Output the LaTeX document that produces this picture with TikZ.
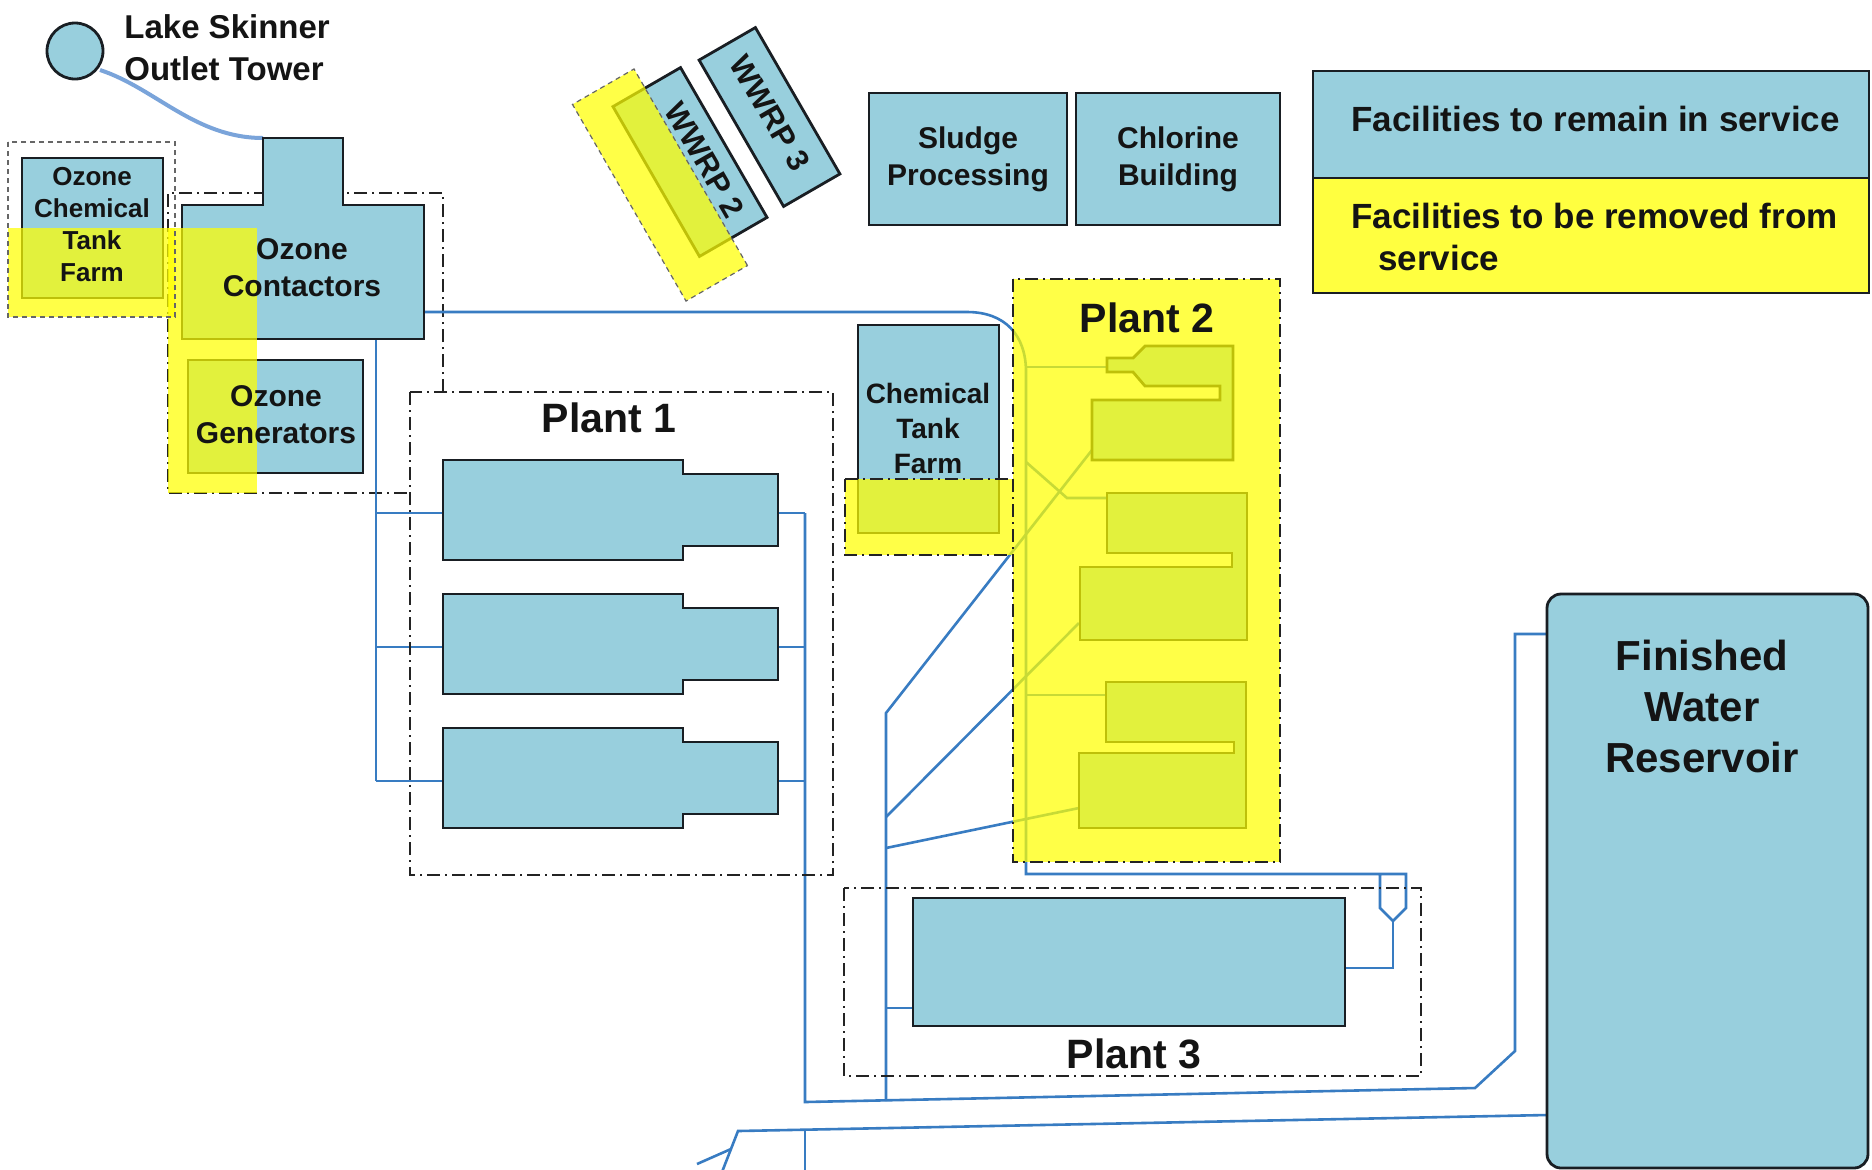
\documentclass[tikz,border=0pt]{standalone}
\usepackage{fontspec}
\setmainfont{Liberation Sans}
\definecolor{bfill}{RGB}{152,207,221}
\definecolor{bline}{RGB}{25,30,35}
\definecolor{pipec}{RGB}{56,124,194}
\definecolor{towerc}{RGB}{122,164,218}
\definecolor{yel}{RGB}{255,255,0}
\definecolor{legyel}{RGB}{255,255,64}
\definecolor{dd}{RGB}{35,35,35}
\newcommand\myfs[2]{\fontsize{#1pt}{#2pt}\selectfont}
\tikzset{
 bbox/.style={fill=bfill, draw=bline, line width=1.4pt, line join=miter},
 pipe/.style={draw=pipec, line width=1.3pt},
 yov/.style={fill=yel, fill opacity=0.72},
 ddash/.style={draw=dd, line width=1.2pt, dash pattern=on 6.5pt off 2.5pt on 1pt off 2.5pt},
 tdash/.style={draw=black!60, line width=0.6pt, dash pattern=on 2.5pt off 2pt},
 txt/.style={text=black!92, align=center, inner sep=0pt},
 fa/.style={font=\bfseries\myfs{13}{16}},
 fb/.style={font=\bfseries\myfs{15}{18.5}},
 fc/.style={font=\bfseries\myfs{14}{17.5}},
 fw/.style={font=\bfseries\myfs{15.5}{18}},
 fp/.style={font=\bfseries\myfs{20.5}{24}},
 fr/.style={font=\bfseries\myfs{21}{25.5}},
 fl/.style={font=\bfseries\myfs{17.5}{21}},
 fs/.style={font=\bfseries\myfs{16.5}{21}},
}
\begin{document}
\begin{tikzpicture}[x=0.5pt,y=-0.5pt]
\useasboundingbox[fill=white] (0,0) rectangle (1872,1169);

% ---------- outlines drawn beneath boxes ----------
\draw[ddash] (443,392) -- (443,193) -- (168,193) -- (168,493) -- (409,493);

% ---------- pipes ----------
\draw[draw=towerc, line width=2pt] (100,70) .. controls (155,88) and (195,138) .. (263,138);
\draw[pipe] (424,312) -- (967,312) .. controls (1005,312) and (1026,335) .. (1026,372) -- (1026,874) -- (1406,874) -- (1406,908) -- (1393,921) -- (1380,908) -- (1380,874);
\draw[pipe] (1393,921) -- (1393,968) -- (1345,968);
\draw[pipe] (376,339) -- (376,781);
\foreach \yy in {513,647,781} {
  \draw[pipe] (376,\yy) -- (443,\yy);
  \draw[pipe] (778,\yy) -- (805,\yy);
}
\draw[pipe] (805,513) -- (805,1102) -- (1475,1088) -- (1515,1051) -- (1515,634) -- (1547,634);
\draw[pipe] (1092,450) -- (886,713) -- (886,1101);
\draw[pipe] (886,1008) -- (913,1008);
\draw[pipe] (886,817) -- (1079,623);
\draw[pipe] (886,848) -- (1079,808);
\draw[pipe] (1026,367) -- (1107,367);
\draw[pipe] (1026,462) -- (1067,498) -- (1107,498);
\draw[pipe] (1026,695) -- (1106,695);
\draw[pipe] (1547,1115) -- (738,1131) -- (722,1172);
\draw[pipe] (731,1149) -- (697,1164);
\draw[pipe] (805,1130) -- (805,1172);

% ---------- boxes ----------
\draw[bbox] (75,51) circle[radius=28];
\node[bbox, minimum width=70.5pt, minimum height=70pt, inner sep=0pt] (octf) at (92.5,228) {};
\draw[bbox] (182,205) -- (263,205) -- (263,138) -- (343,138) -- (343,205) -- (424,205) -- (424,339) -- (182,339) -- cycle;
\coordinate (oc) at (302,268);
\node[bbox, minimum width=87.5pt, minimum height=56.5pt, inner sep=0pt] (ogen) at (275.5,416.5) {};
\node[bbox, minimum width=99pt, minimum height=66pt, inner sep=0pt] (sludge) at (968,159) {};
\node[bbox, minimum width=102pt, minimum height=66pt, inner sep=0pt] (chlor) at (1178,159) {};
\node[bbox, minimum width=70.5pt, minimum height=104pt, inner sep=0pt] (ctf) at (928.5,429) {};
\node[bbox, minimum width=84.5pt, minimum height=32.5pt, inner sep=0pt, rotate=-60] (w3) at (769.5,117) {};
\node[bbox, minimum width=86.5pt, minimum height=39pt, inner sep=0pt, rotate=-60] (w2) at (690,162) {};
\foreach \t in {460,594,728} {
  \draw[bbox] (443,\t) -- (683,\t) -- (683,\t+14) -- (778,\t+14) -- (778,\t+86) -- (683,\t+86) -- (683,\t+100) -- (443,\t+100) -- cycle;
}
\draw[bbox] (1107,358) -- (1133,358) -- (1145,346) -- (1233,346) -- (1233,460) -- (1092,460) -- (1092,400) -- (1220,400) -- (1220,386) -- (1145,386) -- (1133,372) -- (1107,372) -- cycle;
\draw[bbox] (1107,493) -- (1247,493) -- (1247,640) -- (1080,640) -- (1080,567) -- (1232,567) -- (1232,553) -- (1107,553) -- cycle;
\draw[bbox] (1106,682) -- (1246,682) -- (1246,828) -- (1079,828) -- (1079,753) -- (1234,753) -- (1234,742) -- (1106,742) -- cycle;
\draw[bbox] (913,898) rectangle (1345,1026);
\draw[bbox, rounded corners=7pt] (1547,594) rectangle (1868,1168);

% ---------- yellow overlays ----------
\fill[yov] (8,228) rectangle (175,317);
\fill[yov] (168,228) rectangle (257,493);
\node[yov, tdash, minimum width=113.5pt, minimum height=35.5pt, inner sep=0pt, rotate=-60] (wy) at (660,185) {};
\fill[yov] (845,479) rectangle (1013,555);
\fill[yov] (1013,279) rectangle (1280,862);

% ---------- outlines ----------
\draw[tdash] (8,142) rectangle (175,317);
\draw[ddash] (845,479) -- (845,555) -- (1013,555);
\draw[ddash] (845,479) -- (1013,479);
\draw[ddash] (1013,279) rectangle (1280,862);
\draw[ddash] (410,392) rectangle (833,875);
\draw[ddash] (844,888) rectangle (1421,1076);

% ---------- legend ----------
\draw[fill=bfill, draw=bline, line width=1.4pt] (1313,71) rectangle (1869,178);
\draw[fill=legyel, draw=bline, line width=1.4pt] (1313,178) rectangle (1869,293);

% ---------- texts ----------
\node[txt, fs, anchor=west, align=left] (lst) at (124,48) {Lake Skinner\\Outlet Tower};
\node[txt, fa] (toctf) at (92,225) {Ozone\\Chemical\\Tank\\Farm};
\node[txt, fb] (toc) at (oc) {Ozone\\Contactors};
\node[txt, fb] (togen) at (276,415) {Ozone\\Generators};
\node[txt, fb] (tsl) at (sludge) {Sludge\\Processing};
\node[txt, fb] (tcl) at (chlor) {Chlorine\\Building};
\node[txt, fc] (tctf) at (928,428) {Chemical\\Tank\\Farm};
\node[txt, fw, rotate=-60] (tw3) at (770,113) {WWRP 3};
\node[txt, fw, rotate=-60] (tw2) at (705,160) {WWRP 2};
\node[txt, fp, anchor=base] (tp1) at (609,432) {Plant 1};
\node[txt, fp, anchor=base] (tp2) at (1147,332) {Plant 2};
\node[txt, fp, anchor=base] (tp3) at (1134,1068) {Plant 3};
\node[txt, fr] (tres) at (1702,706) {Finished\\Water\\Reservoir};
\node[txt, fl, anchor=base west] (tl1) at (1351,131) {Facilities to remain in service};
\node[txt, fl, anchor=base west] (tl2) at (1351,228) {Facilities to be removed from};
\node[txt, fl, anchor=base west] (tl3) at (1378,270) {service};
\end{tikzpicture}
\end{document}
